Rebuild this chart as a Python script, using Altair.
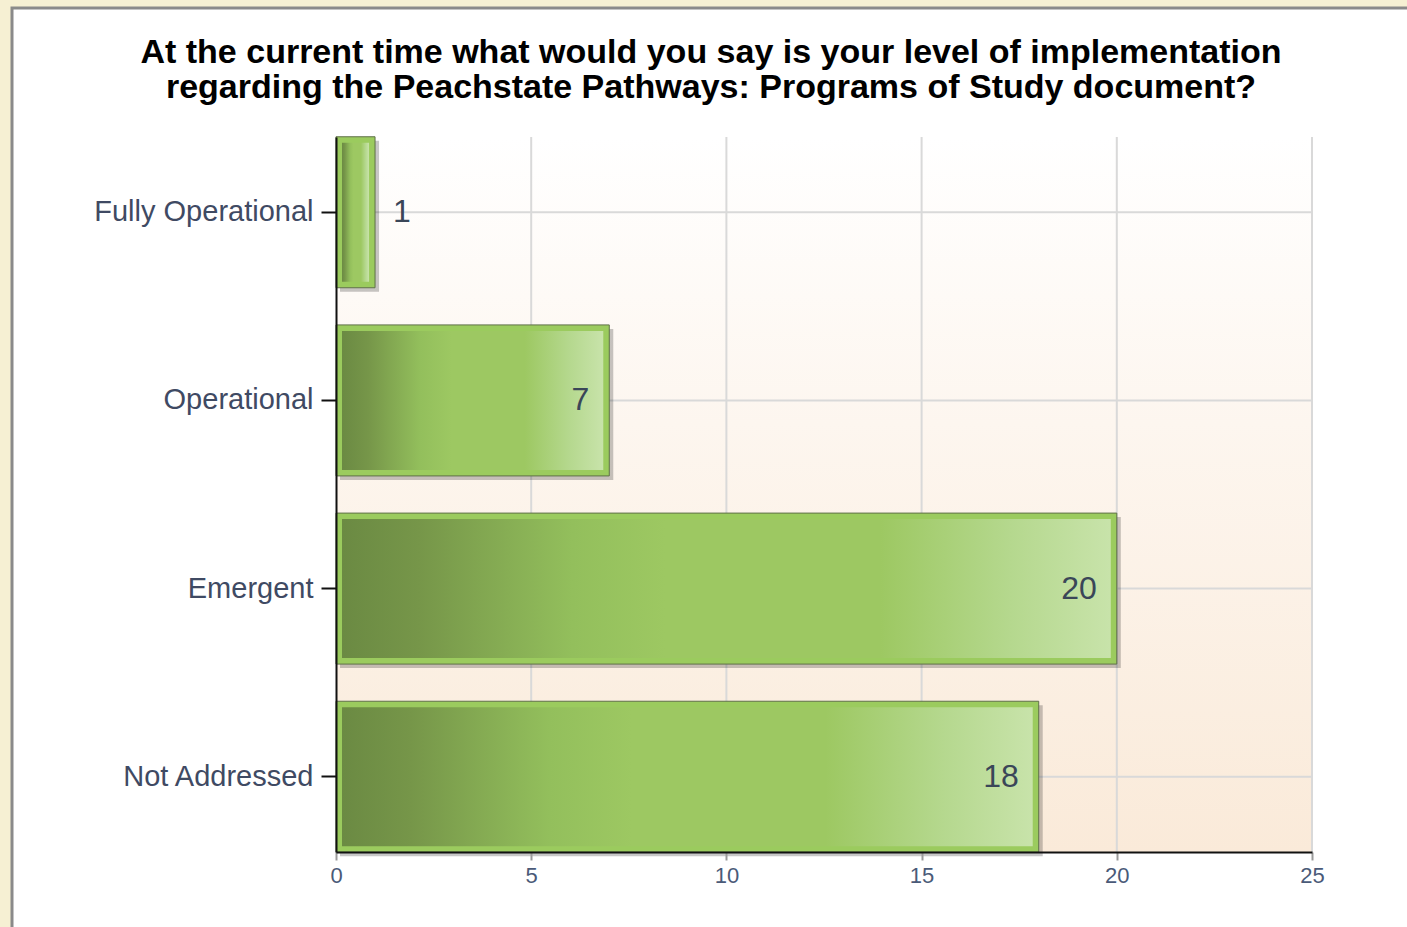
import altair as alt
import pandas as pd

categories = ["Fully Operational", "Operational", "Emergent", "Not Addressed"]
counts = [1, 7, 20, 18]
x_ticks = [0, 5, 10, 15, 20, 25]
grid_x = [5, 10, 15, 20, 25]
title_lines = [
    "At the current time what would you say is your level of implementation",
    "regarding the Peachstate Pathways: Programs of Study document?",
]

W, H = 976, 715
FONT = "Liberation Sans"

df = pd.DataFrame({"category": categories, "count": counts})
grid_df = pd.DataFrame({"count": grid_x})
hgrid_df = pd.DataFrame({"category": categories})
one = pd.DataFrame({"a": [0]})

x_scale = alt.Scale(domain=[0, 25], nice=False, zero=True)
x_axis = alt.Axis(
    values=x_ticks, title=None, grid=False, zindex=1, labelFlush=False,
    domainColor="#111111", domainWidth=2,
    tickColor="#9a9a9a", tickSize=8, tickWidth=2,
    labelFont=FONT, labelFontSize=22, labelColor="#4a5a78", labelPadding=5,
)
x_enc = alt.X("count:Q", scale=x_scale, axis=x_axis)
x_bar = alt.X("count:Q", scale=x_scale, axis=x_axis, stack=None)
y_enc = alt.Y(
    "category:N",
    sort=categories,
    scale=alt.Scale(paddingInner=0.2, paddingOuter=0),
    axis=alt.Axis(
        title=None, grid=False, zindex=1, bandPosition=0.5, labelLimit=500,
        domainColor="#111111", domainWidth=2,
        tickColor="#111111", tickSize=15, tickWidth=2,
        labelFont=FONT, labelFontSize=29, labelColor="#3f4a63", labelPadding=8,
    ),
)

panel = alt.Chart(one).mark_rect(fill="white", stroke="#8a8a8a", strokeWidth=3).encode(
    x=alt.value(-324), x2=alt.value(1074), y=alt.value(-129), y2=alt.value(H + 120)
)

title = alt.Chart(one).mark_text(
    align="center", baseline="alphabetic", font=FONT, fontSize=34, fontWeight="bold",
    color="#000000", lineHeight=35,
).encode(x=alt.value(711 - 336), y=alt.value(63 - 137), text=alt.value(title_lines))

plot_bg = alt.Chart(one).mark_rect(
    fill=alt.LinearGradient(
        gradient="linear", x1=0, y1=0, x2=0, y2=1,
        stops=[alt.GradientStop(color="#FFFFFF", offset=0),
               alt.GradientStop(color="#FDF6EF", offset=0.4),
               alt.GradientStop(color="#FAEAD9", offset=1)],
    )
).encode(x=alt.value(0), x2=alt.value(W), y=alt.value(0), y2=alt.value(H))

vgrid = alt.Chart(grid_df).mark_rule(color="#d9d9d9", strokeWidth=2).encode(x=x_enc)
hgrid = alt.Chart(hgrid_df).mark_rule(color="#d9d9d9", strokeWidth=2).encode(y=y_enc)

shadow = alt.Chart(df).mark_bar(
    color="#000000", opacity=0.22, size=151, xOffset=4, x2Offset=4, yOffset=4
).encode(x=x_bar, x2=alt.datum(0), y=y_enc)

outer = alt.Chart(df).mark_bar(
    fill="#9BCB5E", stroke="#5f7048", strokeWidth=1, size=151
).encode(x=x_bar, x2=alt.datum(0), y=y_enc)

inner = alt.Chart(df).mark_bar(
    fill=alt.LinearGradient(
        gradient="linear", x1=0, y1=0, x2=1, y2=0,
        stops=[alt.GradientStop(color="#6B8A43", offset=0),
               alt.GradientStop(color="#769649", offset=0.1),
               alt.GradientStop(color="#93BF5C", offset=0.3),
               alt.GradientStop(color="#9DC862", offset=0.42),
               alt.GradientStop(color="#9DC862", offset=0.7),
               alt.GradientStop(color="#B5D88E", offset=0.87),
               alt.GradientStop(color="#C8E3AA", offset=1)],
    ),
    size=139, xOffset=-6, x2Offset=6,
).encode(x=x_bar, x2=alt.datum(0), y=y_enc)

text_in = alt.Chart(df).transform_filter("datum.count >= 3").mark_text(
    align="right", baseline="middle", dx=-20, fontSize=32, font=FONT, color="#3a4658"
).encode(x=x_enc, y=y_enc, text="count:Q")

text_out = alt.Chart(df).transform_filter("datum.count < 3").mark_text(
    align="left", baseline="middle", dx=18, fontSize=32, font=FONT, color="#3a4658"
).encode(x=x_enc, y=y_enc, text="count:Q")

chart = alt.layer(
    panel, title, plot_bg, vgrid, hgrid, shadow, outer, inner, text_in, text_out
).properties(
    width=W, height=H,
    padding={"left": 336, "top": 137, "right": 95, "bottom": 75},
    autosize=alt.AutoSizeParams(type="none"),
    background="#F6F0D3",
).configure_view(stroke=None)

chart.save("out.html", embed_options={"renderer": "svg", "actions": False})
